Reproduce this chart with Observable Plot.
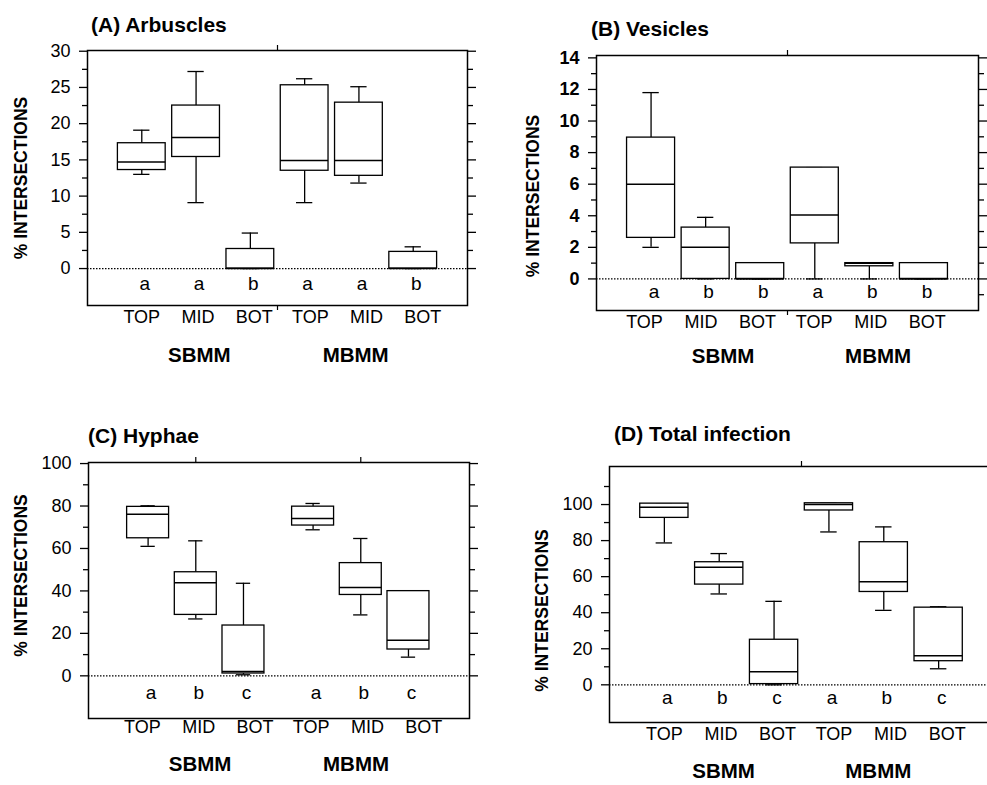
<!DOCTYPE html>
<html><head><meta charset="utf-8">
<script src="https://cdn.jsdelivr.net/npm/d3@7"></script>
<script src="https://cdn.jsdelivr.net/npm/@observablehq/plot@0.6"></script>
<style>
html,body{margin:0;padding:0;background:#fff;overflow:hidden;}
#root{position:relative;width:987px;height:785px;overflow:hidden;font-family:"Liberation Sans",Arial,Helvetica,sans-serif;color:#000}
.title{position:absolute;font-weight:bold;font-size:21px;line-height:1;white-space:nowrap}
.panel{position:absolute}
.panel svg{max-width:none !important}
</style></head><body><div id="root"></div>
<script>
// categories
const levels = ["TOP","MID","BOT","TOP","MID","BOT"];
const groups = ["SBMM","SBMM","SBMM","MBMM","MBMM","MBMM"];
const groupNames = ["SBMM","MBMM"];
const yLabel = "% INTERSECTIONS";

// (A) Arbuscles
const arbMin = [13.0, 9.1, 0, 9.1, 11.8, 0];
const arbQ1  = [13.6, 15.4, 0, 13.5, 12.8, 0];
const arbMed = [14.7, 18.1, 0, 14.9, 14.9, 0];
const arbQ3  = [17.3, 22.5, 2.7, 25.3, 22.9, 2.3];
const arbMax = [19.1, 27.2, 4.9, 26.2, 25.1, 3.0];
const arbLetters = ["a","a","b","a","a","b"];

// (B) Vesicles
const vesMin = [2.0, 0, 0, 0, 0, 0];
const vesQ1  = [2.6, 0, 0, 2.25, 0.8, 0];
const vesMed = [6.0, 2.0, 0, 4.05, 1.0, 0];
const vesQ3  = [8.95, 3.25, 1.0, 7.05, 1.0, 1.0];
const vesMax = [11.8, 3.9, 1.0, 7.05, 1.0, 1.0];
const vesLetters = ["a","b","b","a","b","b"];

// (C) Hyphae
const hyMin = [61, 26.8, 0.5, 68.8, 28.7, 8.8];
const hyQ1  = [64.8, 28.7, 1.1, 70.8, 38.1, 12.4];
const hyMed = [76.1, 43.8, 2.0, 74.1, 41.6, 16.8];
const hyQ3  = [79.6, 48.8, 23.7, 79.7, 53.1, 39.9];
const hyMax = [80.1, 63.6, 43.6, 81.2, 64.7, 40.0];
const hyLetters = ["a","b","c","a","b","c"];

// (D) Total infection
const totMin = [78.7, 50.4, 0, 84.8, 41.3, 8.9];
const totQ1  = [92.6, 55.6, 0.4, 96.7, 51.5, 13.1];
const totMed = [98.5, 65.2, 7.2, 100, 57.2, 16.1];
const totQ3  = [100.5, 68.0, 25.0, 100.7, 79.1, 42.8];
const totMax = [100.5, 72.8, 46.3, 100.7, 87.6, 43.3];
const totLetters = ["a","b","c","a","b","c"];

// tick values
const arbMajor = [0,5,10,15,20,25,30];
const arbMinor = [2.5,7.5,12.5,17.5,22.5,27.5];
const vesMajor = [0,2,4,6,8,10,12,14];
const vesMinor = [1,3,5,7,9,11,13];
const vesMinorR = [-1,1,3,5,7,9,11,13];
const pctMajor = [0,20,40,60,80,100];
const pctMinor = [10,30,50,70,90];
const totMinor = [10,30,50,70,90,110];

const FONT = '"Liberation Sans", Arial, Helvetica, sans-serif';
const root = document.getElementById("root");

function drawPanel(p) {
  const rows = levels.map((lev, i) => ({
    level: lev, group: groups[i], letter: p.letters[i],
    pos: i + (i >= 3 ? p.gap : 0),
    lab: p.l0 + i * p.ls,
    min: p.min[i], q1: p.q1[i], med: p.med[i], q3: p.q3[i], max: p.max[i]
  }));
  const groupRows = groupNames.map((g, j) => ({name: g, pos: rows[j * 3 + 1].pos + p.groupShift[j]}));
  const [y0, y1] = p.yDomain;
  const fh = p.height - p.mt - p.mb;
  const k = (y1 - y0) * 5 / fh;
  const bw = 0.44, cw = 0.15, sw = 1.3;
  const svg = Plot.plot({
    width: p.width, height: p.height,
    marginLeft: p.ml, marginRight: p.mr, marginTop: p.mt, marginBottom: p.mb,
    x: {type: "linear", domain: p.xDomain, axis: null},
    y: {domain: p.yDomain, axis: null, label: null},
    style: {fontFamily: FONT, fontSize: "17px", color: "black", background: "transparent", overflow: "visible"},
    marks: [
      Plot.ruleY([0], {stroke: "black", strokeWidth: 1.2, strokeDasharray: "1.5,1.5"}),
      Plot.ruleX(rows, {x: "pos", y1: "q3", y2: "max", stroke: "black", strokeWidth: sw}),
      Plot.ruleX(rows, {x: "pos", y1: "min", y2: "q1", stroke: "black", strokeWidth: sw}),
      Plot.ruleY(rows, {y: "max", x1: d => d.pos - cw, x2: d => d.pos + cw, stroke: "black", strokeWidth: sw}),
      Plot.ruleY(rows, {y: "min", x1: d => d.pos - cw, x2: d => d.pos + cw, stroke: "black", strokeWidth: sw}),
      Plot.rect(rows, {x1: d => d.pos - bw, x2: d => d.pos + bw, y1: "q1", y2: "q3", fill: "white", stroke: "black", strokeWidth: sw}),
      Plot.ruleY(rows, {y: "med", x1: d => d.pos - bw, x2: d => d.pos + bw, stroke: "black", strokeWidth: 1.5}),
      Plot.frame({stroke: "black", strokeWidth: 1.5}),
      Plot.ruleX(p.sepTop, {x: d => d, y1: y1, y2: y1 + k, stroke: "black", strokeWidth: 1.2}),
      Plot.ruleX(p.sepBottom, {x: d => d, y1: y0, y2: y0 - k, stroke: "black", strokeWidth: 1.2}),
      Plot.axisY({anchor: "left", ticks: p.major, tickSize: 8, tickPadding: 9, fontSize: 18, fontWeight: p.tickBold ? "bold" : "normal", label: null, strokeWidth: 1.3}),
      Plot.axisY({anchor: "left", ticks: p.minor, tickSize: 5, fill: "none", label: null, strokeWidth: 1.3}),
      Plot.axisY({anchor: "right", ticks: p.major, tickSize: 8, fill: "none", label: null, strokeWidth: 1.3}),
      Plot.axisY({anchor: "right", ticks: p.minorR, tickSize: 5, fill: "none", label: null, strokeWidth: 1.3}),
      Plot.text(rows, {x: "lab", text: "level", frameAnchor: "bottom", dy: p.levDy, fontSize: 18}),
      Plot.text(rows, {x: "pos", text: "letter", frameAnchor: "bottom", dy: p.letDy, dx: 3, fontSize: 19}),
      Plot.text(groupRows, {x: "pos", text: "name", frameAnchor: "bottom", dy: p.grpDy, fontSize: 20.5, fontWeight: "bold"}),
      Plot.text([yLabel], {text: d => d, frameAnchor: "left", textAnchor: "middle", dx: p.ylabDx, dy: p.ylabDy, rotate: -90, fontSize: 17.5, fontWeight: "bold"})
    ]
  });
  svg.style.maxWidth = "none";
  const div = document.createElement("div");
  div.className = "panel";
  div.style.left = p.left + "px";
  div.style.top = p.top + "px";
  div.style.width = p.width + "px";
  div.appendChild(svg);
  root.appendChild(div);
  const t = document.createElement("div");
  t.className = "title";
  t.textContent = p.title;
  t.style.left = p.tx + "px";
  t.style.top = p.ty + "px";
  root.appendChild(t);
}

drawPanel({
  title: "(A) Arbuscles", tx: 91, ty: 14,
  left: 0, top: 30, width: 490, height: 350, ml: 87, mr: 23, mt: 20, mb: 75,
  xDomain: [-1, 6], gap: 0, yDomain: [-5.1, 30.1],
  min: arbMin, q1: arbQ1, med: arbMed, q3: arbQ3, max: arbMax, letters: arbLetters,
  major: arbMajor, minor: arbMinor, minorR: arbMinor, tickBold: false,
  l0: 0, ls: 1.035, levDy: 17, letDy: -16, grpDy: 56, groupShift: [0.06, -0.06],
  ylabDx: -66, ylabDy: 0, sepTop: [2.5], sepBottom: [2.5]
});
drawPanel({
  title: "(B) Vesicles", tx: 591, ty: 18,
  left: 490, top: 30, width: 497, height: 350, ml: 106, mr: 9, mt: 25, mb: 70,
  xDomain: [-1, 6], gap: 0, yDomain: [-2.0, 14.15],
  min: vesMin, q1: vesQ1, med: vesMed, q3: vesQ3, max: vesMax, letters: vesLetters,
  major: vesMajor, minor: vesMinor, minorR: vesMinorR, tickBold: true,
  l0: -0.12, ls: 1.036, levDy: 17, letDy: -13, grpDy: 52, groupShift: [0.32, 0.16],
  ylabDx: -62.7, ylabDy: 13, sepTop: [2.5], sepBottom: [2.5]
});
drawPanel({
  title: "(C) Hyphae", tx: 88, ty: 425,
  left: 0, top: 440, width: 490, height: 345, ml: 88, mr: 21, mt: 22, mb: 67,
  xDomain: [-1.25, 6.74], gap: 0.46, yDomain: [-20.1, 100.5],
  min: hyMin, q1: hyQ1, med: hyMed, q3: hyQ3, max: hyMax, letters: hyLetters,
  major: pctMajor, minor: pctMinor, minorR: pctMinor, tickBold: false,
  l0: -0.12, ls: 1.18, levDy: 14, letDy: -20, grpDy: 52, groupShift: [0.09, -0.1],
  ylabDx: -67, ylabDy: -15, sepTop: [1, 4.46], sepBottom: []
});
drawPanel({
  title: "(D) Total infection", tx: 614, ty: 423,
  left: 490, top: 440, width: 510, height: 345, ml: 119, mr: 7, mt: 26, mb: 63,
  xDomain: [-1, 6], gap: 0, yDomain: [-20.9, 121.1],
  min: totMin, q1: totQ1, med: totMed, q3: totQ3, max: totMax, letters: totLetters,
  major: pctMajor, minor: totMinor, minorR: totMinor, tickBold: false,
  l0: 0, ls: 1.031, levDy: 17, letDy: -19, grpDy: 55, groupShift: [0.08, -0.1],
  ylabDx: -67.3, ylabDy: 16, sepTop: [2.5], sepBottom: []
});
</script>
</body></html>
